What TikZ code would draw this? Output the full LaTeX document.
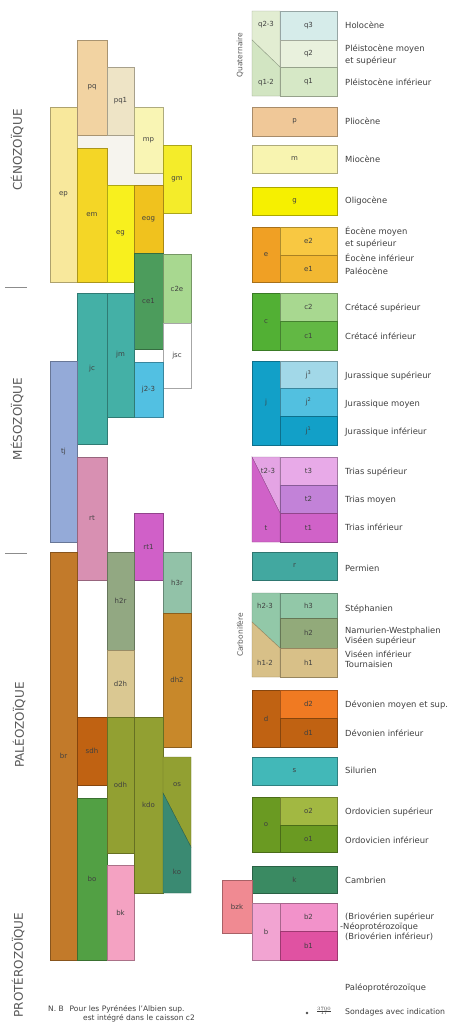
\documentclass[tikz,border=0pt]{standalone}
\usepackage{fontspec}
\setmainfont{DejaVu Sans}

% left chart
\definecolor{cEp}{HTML}{F8E89C}
\definecolor{cPq}{HTML}{F2D3A2}
\definecolor{cPqi}{HTML}{EEE4C6}
\definecolor{cMp}{HTML}{F9F5B4}
\definecolor{cGm}{HTML}{F4EC2A}
\definecolor{cEm}{HTML}{F4D626}
\definecolor{cEg}{HTML}{F8F01E}
\definecolor{cEog}{HTML}{F0C21E}
\definecolor{cCe}{HTML}{4C9C5C}
\definecolor{cCtwo}{HTML}{A8D890}
\definecolor{cJc}{HTML}{44B0A6}
\definecolor{cJtt}{HTML}{52C0E2}
\definecolor{cTj}{HTML}{94AAD8}
\definecolor{cRt}{HTML}{D890B2}
\definecolor{cRti}{HTML}{D060C8}
\definecolor{cBr}{HTML}{C27A2A}
\definecolor{cHtr}{HTML}{92A882}
\definecolor{cDth}{HTML}{DAC892}
\definecolor{cHr}{HTML}{92C2A8}
\definecolor{cDh}{HTML}{C8882A}
\definecolor{cSdh}{HTML}{C06212}
\definecolor{cBo}{HTML}{52A044}
\definecolor{cOdh}{HTML}{92A032}
\definecolor{cKo}{HTML}{3A8A72}
\definecolor{cBk}{HTML}{F4A2C2}
\definecolor{cGap}{HTML}{F6F4EE}
% legend
\definecolor{cQthree}{HTML}{D6ECEA}
\definecolor{cQtwo}{HTML}{E9F1DD}
\definecolor{cQone}{HTML}{D6E8C6}
\definecolor{cQtt}{HTML}{E2EDD2}
\definecolor{cQot}{HTML}{D2E5C2}
\definecolor{cP}{HTML}{F0C898}
\definecolor{cM}{HTML}{F8F4B0}
\definecolor{cG}{HTML}{F6F000}
\definecolor{cE}{HTML}{F0A024}
\definecolor{cEtwo}{HTML}{F8C842}
\definecolor{cEone}{HTML}{F2B832}
\definecolor{cC}{HTML}{52B034}
\definecolor{cCone}{HTML}{62B844}
\definecolor{cJ}{HTML}{12A0C8}
\definecolor{cJthree}{HTML}{A2D8E8}
\definecolor{cJtwo}{HTML}{52C0E0}
\definecolor{cTtt}{HTML}{E4A4E4}
\definecolor{cT}{HTML}{D062C8}
\definecolor{cTthree}{HTML}{E8AAE8}
\definecolor{cTtwo}{HTML}{C282D8}
\definecolor{cR}{HTML}{42A8A0}
\definecolor{cHthree}{HTML}{92C8A8}
\definecolor{cHtwo}{HTML}{92AA7A}
\definecolor{cHone}{HTML}{D8C088}
\definecolor{cD}{HTML}{C06212}
\definecolor{cDtwo}{HTML}{F07A22}
\definecolor{cS}{HTML}{42B8B8}
\definecolor{cO}{HTML}{6A9A22}
\definecolor{cOtwo}{HTML}{A2B842}
\definecolor{cK}{HTML}{3A8A62}
\definecolor{cB}{HTML}{F2A4D2}
\definecolor{cBtwo}{HTML}{F292CA}
\definecolor{cBone}{HTML}{E052A2}
\definecolor{cBzk}{HTML}{F08A92}

\begin{document}
\begin{tikzpicture}
		[x=1pt,y=-1pt,
		layer/.style={draw=#1!70!black,fill=#1,line width=.4pt,inner sep=0pt,outer sep=0pt,font=\fontsize{7}{7.5}\selectfont,text=black!75},
		era/.style={rotate=90,inner sep=0pt,font=\fontsize{12}{12}\selectfont,text=black!65},
		legend/.style={anchor=west,inner sep=0pt,font=\fontsize{8.4}{9}\selectfont,text=black!75},
		tag/.style={inner sep=0pt,font=\fontsize{7}{7.5}\selectfont,text=black!75}]
		\useasboundingbox[fill=white] (0,0) rectangle (457,1028);
		
		% eras
		\node [era] (ceno) at (17,150) {CÉNOZOÏQUE};
		\node [era] (meso) at (17,419) {MÉSOZOÏQUE};
		\node [era] (paleo) at (19,725) {PALÉOZOÏQUE};
		\node [era] (protero) at (18,965) {PROTÉROZOÏQUE};
		\draw[black!45,line width=1pt] (5,287) -- (27,287);
		\draw[black!45,line width=1pt] (5,553) -- (27,553);
		
		% chart
		\filldraw[fill=cGap,draw=black!20,line width=.4pt] (77,135) -- (134,135) -- (134,173) -- (163,173) -- (163,185) -- (107,185) -- (107,148) -- (77,148) -- cycle;
		\node [layer=cEp][minimum width=27,minimum height=175] (ep) at (63.5,194.5) {ep};
		\node [layer=cPq][minimum width=30,minimum height=95] (pq) at (92,87.5) {pq};
		\node [layer=cPqi][minimum width=27,minimum height=68] (pq1) at (120.5,101) {pq1};
		\node [layer=cMp][minimum width=29,minimum height=66] (mp) at (148.5,140) {mp};
		\node [layer=cGm][minimum width=28,minimum height=68] (gm) at (177,179) {gm};
		\node [layer=cEm][minimum width=30,minimum height=134] (em) at (92,215) {em};
		\node [layer=cEg][minimum width=27,minimum height=97] (eg) at (120.5,233.5) {eg};
		\node [layer=cEog][minimum width=29,minimum height=68] (eog) at (148.5,219) {eog};
		\node [layer=cCe][minimum width=29,minimum height=96] (ce1) at (148.5,301) {ce1};
		\node [layer=cCtwo][minimum width=28,minimum height=69] (c2e) at (177,288.5) {c2e};
		\node [layer=white][draw=black!35][minimum width=28,minimum height=65] (jsc) at (177,355.5) {jsc};
		\node [layer=cJtt][minimum width=29,minimum height=55] (j23) at (148.5,389.5) {j2-3};
		\node [layer=cJc][minimum width=27,minimum height=124] (jm) at (120.5,355) {jm};
		\node [layer=cJc][minimum width=30,minimum height=151] (jc) at (92,368.5) {jc};
		\node [layer=cTj][minimum width=27,minimum height=181] (tj) at (63.5,451.5) {tj};
		\node [layer=cRt][minimum width=30,minimum height=123] (rt) at (92,518.5) {rt};
		\node [layer=cRti][minimum width=29,minimum height=67] (rt1) at (148.5,546.5) {rt1};
		\node [layer=cBr][minimum width=27,minimum height=408] (br) at (63.5,756) {br};
		\node [layer=cHtr][minimum width=27,minimum height=98] (h2r) at (120.5,601) {h2r};
		\node [layer=cDth][minimum width=27,minimum height=67] (d2h) at (120.5,683.5) {d2h};
		\node [layer=cHr][minimum width=28,minimum height=61] (h3r) at (177,582.5) {h3r};
		\node [layer=cDh][minimum width=28,minimum height=134] (dh2) at (177,680) {dh2};
		\node [layer=cSdh][minimum width=30,minimum height=68] (sdh) at (92,751) {sdh};
		\node [layer=cBo][minimum width=30,minimum height=162] (bo) at (92,879) {bo};
		\node [layer=cOdh][minimum width=27,minimum height=136] (odh) at (120.5,785) {odh};
		\node [layer=cBk][minimum width=27,minimum height=95] (bk) at (120.5,912.5) {bk};
		\node [layer=cOdh][minimum width=29,minimum height=176] (kdo) at (148.5,805) {kdo};
		\filldraw[fill=cOdh,draw=cOdh!70!black,line width=.4pt] (163,757) -- (191,757) -- (191,847) -- (163,793) -- cycle;
		\filldraw[fill=cKo,draw=cKo!70!black,line width=.4pt] (163,793) -- (191,847) -- (191,893) -- (163,893) -- cycle;
		\node [tag] (os) at (177,785) {os};
		\node [tag] (ko) at (177,872) {ko};
		
		% legend boxes
		\node [era][font=\fontsize{7.5}{8}\selectfont] (quat) at (240,55) {Quaternaire};
		\filldraw[fill=cQtt,draw=cQtt!70!black,line width=.4pt] (252,11) -- (280,11) -- (280,67) -- (252,40) -- cycle;
		\filldraw[fill=cQot,draw=cQot!70!black,line width=.4pt] (252,40) -- (280,67) -- (280,96) -- (252,96) -- cycle;
		\node [tag] (q23) at (266,25) {q2-3};
		\node [tag] (q12) at (266,83) {q1-2};
		\node [layer=cQthree][minimum width=57,minimum height=29] (q3) at (308.5,25.5) {q3};
		\node [layer=cQtwo][minimum width=57,minimum height=27] (q2) at (308.5,53.5) {q2};
		\node [layer=cQone][minimum width=57,minimum height=29] (q1) at (308.5,81.5) {q1};
		
		\node [layer=cP][minimum width=85,minimum height=29] (p) at (294.5,121.5) {p};
		\node [layer=cM][minimum width=85,minimum height=28] (m) at (294.5,159) {m};
		\node [layer=cG][minimum width=85,minimum height=28] (g) at (294.5,201) {g};
		
		\node [layer=cE][minimum width=28,minimum height=55] (e) at (266,254.5) {e};
		\node [layer=cEtwo][minimum width=57,minimum height=28] (e2) at (308.5,241) {e2};
		\node [layer=cEone][minimum width=57,minimum height=27] (e1) at (308.5,268.5) {e1};
		
		\node [layer=cC][minimum width=28,minimum height=57] (c) at (266,321.5) {c};
		\node [layer=cCtwo][minimum width=57,minimum height=28] (c2) at (308.5,307) {c2};
		\node [layer=cCone][minimum width=57,minimum height=29] (c1) at (308.5,335.5) {c1};
		
		\node [layer=cJ][minimum width=28,minimum height=84] (j) at (266,403) {j};
		\node [layer=cJthree][minimum width=57,minimum height=27] (j3) at (308.5,374.5) {j\textsuperscript{3}};
		\node [layer=cJtwo][minimum width=57,minimum height=28] (j2) at (308.5,402) {j\textsuperscript{2}};
		\node [layer=cJ][minimum width=57,minimum height=29] (j1) at (308.5,430.5) {j\textsuperscript{1}};
		
		\filldraw[fill=cTtt,draw=cTtt!70!black,line width=.4pt] (252,457) -- (280,457) -- (280,513) -- cycle;
		\filldraw[fill=cT,draw=cT!70!black,line width=.4pt] (252,457) -- (280,513) -- (280,542) -- (252,542) -- cycle;
		\node [tag] (t23) at (268,471) {t2-3};
		\node [tag] (t) at (266,528) {t};
		\node [layer=cTthree][minimum width=57,minimum height=28] (t3) at (308.5,471) {t3};
		\node [layer=cTtwo][minimum width=57,minimum height=28] (t2) at (308.5,499) {t2};
		\node [layer=cT][minimum width=57,minimum height=29] (t1) at (308.5,527.5) {t1};
		
		\node [layer=cR][minimum width=85,minimum height=28] (r) at (294.5,566) {r};
		
		\node [era][font=\fontsize{7.5}{8}\selectfont] (carbo) at (240,635) {Carbonifère};
		\filldraw[fill=cHthree,draw=cHthree!70!black,line width=.4pt] (252,593) -- (280,593) -- (280,648) -- (252,622) -- cycle;
		\filldraw[fill=cHone,draw=cHone!70!black,line width=.4pt] (252,622) -- (280,648) -- (280,677) -- (252,677) -- cycle;
		\node [tag] (h23) at (265,606) {h2-3};
		\node [tag] (h12) at (265,663) {h1-2};
		\node [layer=cHthree][minimum width=57,minimum height=25] (h3) at (308.5,605.5) {h3};
		\node [layer=cHtwo][minimum width=57,minimum height=30] (h2) at (308.5,633) {h2};
		\node [layer=cHone][minimum width=57,minimum height=29] (h1) at (308.5,662.5) {h1};
		
		\node [layer=cD][minimum width=28,minimum height=57] (d) at (266,718.5) {d};
		\node [layer=cDtwo][minimum width=57,minimum height=28] (d2) at (308.5,704) {d2};
		\node [layer=cD][minimum width=57,minimum height=29] (d1) at (308.5,732.5) {d1};
		
		\node [layer=cS][minimum width=85,minimum height=28] (s) at (294.5,771) {s};
		
		\node [layer=cO][minimum width=28,minimum height=55] (o) at (266,824.5) {o};
		\node [layer=cOtwo][minimum width=57,minimum height=28] (o2) at (308.5,811) {o2};
		\node [layer=cO][minimum width=57,minimum height=27] (o1) at (308.5,838.5) {o1};
		
		\node [layer=cK][minimum width=85,minimum height=27] (k) at (294.5,879.5) {k};
		
		\node [layer=cBzk][minimum width=30,minimum height=53] (bzk) at (237,906.5) {bzk};
		\node [layer=cB][minimum width=28,minimum height=57] (b) at (266,931.5) {b};
		\node [layer=cBtwo][minimum width=57,minimum height=28] (b2) at (308.5,917) {b2};
		\node [layer=cBone][minimum width=57,minimum height=29] (b1) at (308.5,945.5) {b1};
		
		% legend texts
		\node [legend] (holo) at (345,25) {Holocène};
		\node [legend] (pleisa) at (345,49) {Pléistocène moyen};
		\node [legend] (pleisb) at (345,61) {et supérieur};
		\node [legend] (pleisi) at (345,82) {Pléistocène inférieur};
		\node [legend] (plio) at (345,121) {Pliocène};
		\node [legend] (mio) at (345,159) {Miocène};
		\node [legend] (oligo) at (345,201) {Oligocène};
		\node [legend] (eoa) at (345,231) {Éocène moyen};
		\node [legend] (eob) at (345,244) {et supérieur};
		\node [legend] (eoi) at (345,258) {Éocène inférieur};
		\node [legend] (paleoc) at (345,271) {Paléocène};
		\node [legend] (cretsup) at (345,308) {Crétacé supérieur};
		\node [legend] (cretinf) at (345,336) {Crétacé inférieur};
		\node [legend] (jursup) at (345,376) {Jurassique supérieur};
		\node [legend] (jurmoy) at (345,404) {Jurassique moyen};
		\node [legend] (jurinf) at (345,432) {Jurassique inférieur};
		\node [legend] (trisup) at (345,472) {Trias supérieur};
		\node [legend] (trimoy) at (345,500) {Trias moyen};
		\node [legend] (triinf) at (345,527) {Trias inférieur};
		\node [legend] (perm) at (345,568) {Permien};
		\node [legend] (steph) at (345,609) {Stéphanien};
		\node [legend] (namur) at (345,631) {Namurien-Westphalien};
		\node [legend] (visup) at (345,641) {Viséen supérieur};
		\node [legend] (visinf) at (345,654) {Viséen inférieur};
		\node [legend] (tourn) at (345,664) {Tournaisien};
		\node [legend] (devsup) at (345,705) {Dévonien moyen et sup.};
		\node [legend] (devinf) at (345,733) {Dévonien inférieur};
		\node [legend] (silu) at (345,770) {Silurien};
		\node [legend] (ordsup) at (345,812) {Ordovicien supérieur};
		\node [legend] (ordinf) at (345,840) {Ordovicien inférieur};
		\node [legend] (camb) at (345,880) {Cambrien};
		\node [legend] (briosup) at (345,917) {(Briovérien supérieur};
		\node [legend] (neo) at (340,927) {-Néoprotérozoïque};
		\node [legend] (brioinf) at (345,937) {(Briovérien inférieur)};
		\node [legend] (paleop) at (345,988) {Paléoprotérozoïque};
		
		% notes
		\fill[black!70] (307,1013) circle (1.3);
		\node [tag][font=\fontsize{5}{5}\selectfont] (depth) at (324,1011) {$\frac{3700}{17}$};
		\node [legend][font=\fontsize{7.8}{8.5}\selectfont] (sond) at (345,1012) {Sondages avec indication};
		\node [legend][font=\fontsize{7.5}{8.5}\selectfont] (nb) at (48,1009) {N. B\hspace{6pt}Pour les Pyrénées l'Albien sup.};
		\node [legend][font=\fontsize{7.5}{8.5}\selectfont] (nbb) at (83,1018) {est intégré dans le caisson c2};
		
		\end{tikzpicture}
\end{document}
